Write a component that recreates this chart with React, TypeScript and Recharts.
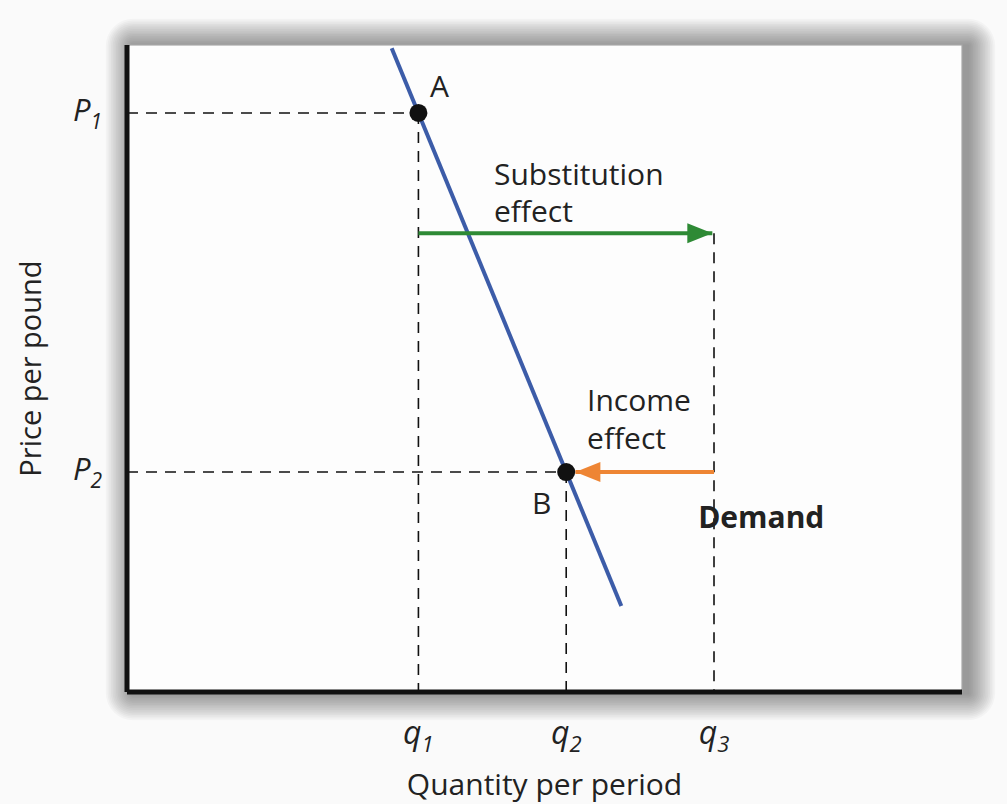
import React from 'react';
import {
  ComposedChart, Line, Scatter, XAxis, YAxis, ReferenceLine, ReferenceArea,
} from 'recharts';

// values, in a 0..100 data space
const qTicks = [34.9, 52.6, 70.3];
const qSubs = ['1', '2', '3'];
const pTicks = [89.5, 34.0];
const pSubs = ['1', '2'];

const demandLine = [
  { x: 31.7, y: 99.5 },
  { x: 59.2, y: 13.3 },
];
const points = [
  { x: 34.9, y: 89.5 },
  { x: 52.6, y: 34.0 },
];
const substitutionArrow = [
  { x: 34.9, y: 70.9 },
  { x: 70.1, y: 70.9 },
];
const incomeArrow = [
  { x: 70.3, y: 34.0 },
  { x: 53.7, y: 34.0 },
];
const guideLines = [
  [{ x: 0, y: 89.5 }, { x: 34.9, y: 89.5 }],
  [{ x: 0, y: 34.0 }, { x: 52.6, y: 34.0 }],
  [{ x: 34.9, y: 89.5 }, { x: 34.9, y: 0 }],
  [{ x: 52.6, y: 34.0 }, { x: 52.6, y: 0 }],
  [{ x: 70.3, y: 70.9 }, { x: 70.3, y: 0 }],
];
const notes = [
  { x: 36.3, y: 92.0, text: 'A', bold: false },
  { x: 43.95, y: 78.4, text: 'Substitution', bold: false },
  { x: 43.95, y: 72.6, text: 'effect', bold: false },
  { x: 55.1, y: 43.4, text: 'Income', bold: false },
  { x: 55.1, y: 37.6, text: 'effect', bold: false },
  { x: 48.5, y: 27.5, text: 'B', bold: false },
  { x: 68.4, y: 25.3, text: 'Demand', bold: true },
];

const FONT = '"Open Sans", "Noto Sans", sans-serif';

const QTick = ({ x, y, index }: any) => (
  <text x={x} y={y + 44} textAnchor="middle" fontFamily={FONT} fontSize={32} fontStyle="italic" fill="#222">
    q<tspan fontSize={22} dy={8}>{qSubs[index]}</tspan>
  </text>
);

const PTick = ({ x, y, index }: any) => (
  <text x={x - 17} y={y + 8} textAnchor="end" fontFamily={FONT} fontSize={31} fontStyle="italic" fill="#222">
    P<tspan fontSize={21} dy={8}>{pSubs[index]}</tspan>
  </text>
);

const arrowHead = (dir: number, color: string) => (props: any) => {
  const { cx, cy, index } = props;
  if (index !== 1) return <g key={`n${index}`} />;
  const base = cx - dir * 25;
  return (
    <polygon
      key={`h${index}`}
      points={`${cx},${cy} ${base},${cy - 10} ${base},${cy + 10}`}
      fill={color}
    />
  );
};

const NoteShape = (props: any) => {
  const { cx, cy, payload } = props;
  return (
    <text x={cx} y={cy} fontFamily={FONT} fontSize={30} fontWeight={payload.bold ? 700 : 400} fill="#222">
      {payload.text}
    </text>
  );
};

const DotShape = (props: any) => <circle cx={props.cx} cy={props.cy} r={9} fill="#111" />;

// white plot box; the soft shadow is faked with stacked translucent rects
const SHADOW_STEPS = [1, 2, 3, 4, 5, 6, 7, 8, 9, 10, 11, 12, 13, 14, 15, 16];
const BoxShape = (props: any) => {
  const { x, y, width, height } = props;
  return (
    <g>
      {SHADOW_STEPS.map((s) => (
        <rect
          key={s}
          x={x + 6 - s * 1.7}
          y={y + 1 - s * 1.7}
          width={width + s * 3.4}
          height={height + s * 3.4}
          rx={s * 1.7}
          fill="#000"
          fillOpacity={0.028}
        />
      ))}
      <rect x={x} y={y} width={width} height={height} fill="#fdfdfd" stroke="#a8a8a8" strokeWidth={1.2} />
    </g>
  );
};

export default function App() {
  return (
    <div style={{ position: 'absolute', left: 0, top: 0, width: 1007, height: 804, background: '#fafafa' }}>
      <ComposedChart width={1007} height={804} margin={{ top: 45, right: 45, bottom: 52, left: 67 }}>
        <ReferenceArea x1={0} x2={100} y1={0} y2={100} shape={<BoxShape />} ifOverflow="visible" />
        <XAxis
          type="number"
          dataKey="x"
          domain={[0, 100]}
          ticks={qTicks}
          tick={<QTick />}
          tickLine={false}
          axisLine={{ stroke: '#111', strokeWidth: 5 }}
          height={60}
          allowDataOverflow
          label={{
            value: 'Quantity  per period',
            position: 'insideBottom',
            offset: -43,
            style: { fontFamily: FONT, fontSize: 30, fill: '#222', whiteSpace: 'pre' },
          }}
        />
        <YAxis
          type="number"
          dataKey="y"
          domain={[0, 100]}
          ticks={pTicks}
          tick={<PTick />}
          tickLine={false}
          axisLine={{ stroke: '#111', strokeWidth: 5 }}
          width={60}
          allowDataOverflow
          label={{
            value: 'Price per pound',
            angle: -90,
            position: 'insideLeft',
            offset: -36,
            style: { fontFamily: FONT, fontSize: 29, fill: '#222', textAnchor: 'middle' },
          }}
        />
        {guideLines.map((seg, i) => (
          <ReferenceLine
            key={i}
            segment={seg}
            stroke="#111"
            strokeWidth={1.6}
            strokeDasharray="11 8"
            ifOverflow="visible"
          />
        ))}
        <Line
          data={demandLine}
          dataKey="y"
          stroke="#3c5ca8"
          strokeWidth={4}
          dot={false}
          isAnimationActive={false}
        />
        <Line
          data={substitutionArrow}
          dataKey="y"
          stroke="#2e8a35"
          strokeWidth={4}
          dot={arrowHead(1, '#2e8a35')}
          isAnimationActive={false}
        />
        <Line
          data={incomeArrow}
          dataKey="y"
          stroke="#ee8534"
          strokeWidth={4}
          dot={arrowHead(-1, '#ee8534')}
          isAnimationActive={false}
        />
        <Scatter data={points} shape={<DotShape />} isAnimationActive={false} />
        <Scatter data={notes} shape={<NoteShape />} isAnimationActive={false} />
      </ComposedChart>
    </div>
  );
}
